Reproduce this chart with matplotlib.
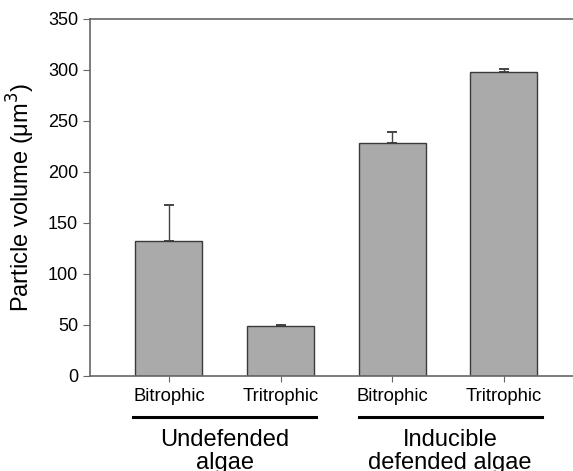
import matplotlib
matplotlib.use("Agg")
import matplotlib.pyplot as plt

plt.rcParams['font.family'] = ['Liberation Sans', 'DejaVu Sans']

# data
tick_labels = ["Bitrophic", "Tritrophic", "Bitrophic", "Tritrophic"]
means = [132, 49, 228, 298]
errors = [35.5, 0.8, 10.8, 3.0]
groups = ["Undefended\nalgae", "Inducible\ndefended algae"]
group_centers = [1.5, 3.52]

x = [1, 2, 3, 4]

fig = plt.figure(figsize=(5.73, 4.71), dpi=100)
ax = fig.add_axes([0.157, 0.2017, 0.843, 0.758])

ax.bar(x, means, width=0.6, color="#aaaaaa", edgecolor="#3a3a3a", linewidth=1.0, zorder=2)
ax.errorbar(x, means, yerr=[[0] * 4, errors], fmt="none", ecolor="#444444",
            elinewidth=1.0, capsize=3.8, capthick=1.4, zorder=1)

ax.set_xlim(0.293, 4.62)
ax.set_ylim(0, 350)
ax.set_yticks(range(0, 351, 50))
ax.set_xticks(x)
ax.set_xticklabels(tick_labels, fontsize=13.3)
ax.tick_params(axis="y", labelsize=13, direction="out", length=5, color="#666666")
ax.tick_params(axis="x", direction="out", length=4, color="#666666", pad=5)

ax.spines["right"].set_visible(False)
for s in ["top", "bottom", "left"]:
    ax.spines[s].set_color("#666666")
    ax.spines[s].set_linewidth(1.2)

ax.set_ylabel("Particle volume (μm$^3$)", fontsize=17, labelpad=8)

# group bars and labels under the axis
trans = ax.get_xaxis_transform()
for c, g in zip(group_centers, groups):
    ax.plot([c - 0.82, c + 0.82], [-0.114, -0.114], color="black", linewidth=2.2,
            transform=trans, clip_on=False)
    ax.text(c, -0.148, g, transform=trans, ha="center", va="top", fontsize=17,
            linespacing=1.05)

fig.savefig("out.png", dpi=100)
